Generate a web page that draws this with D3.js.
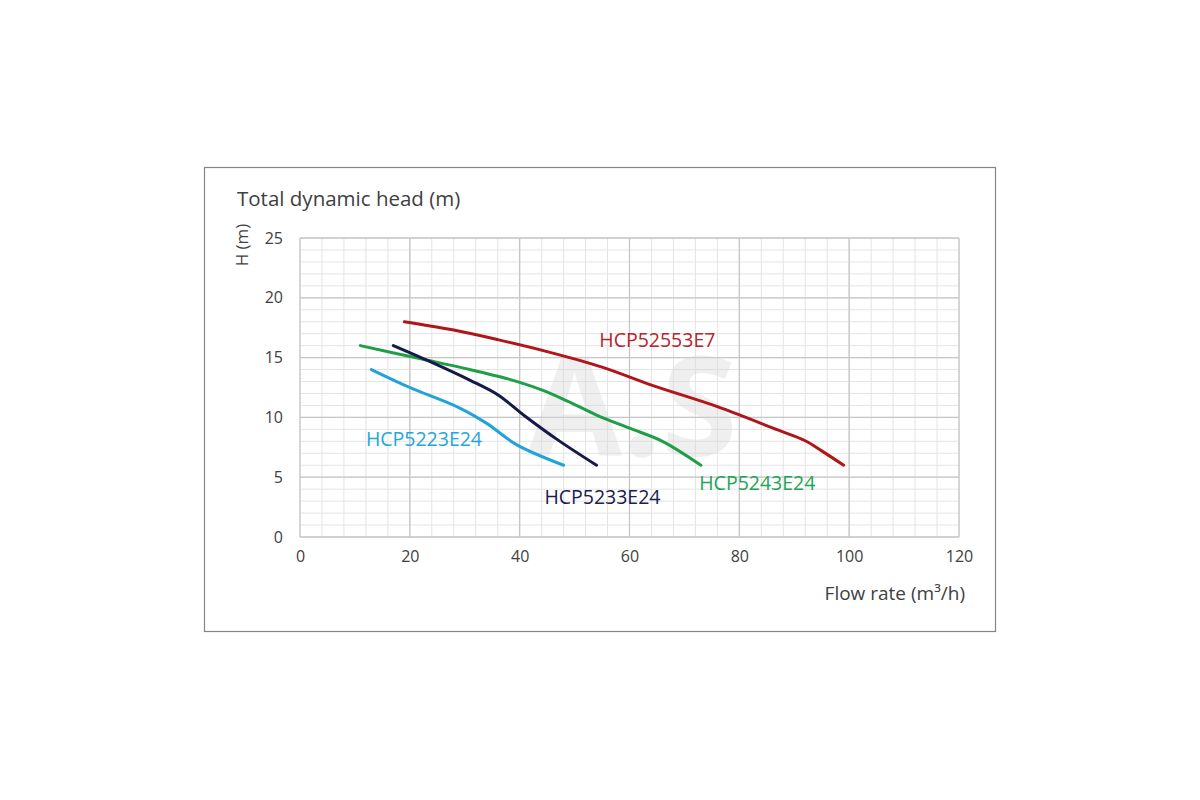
<!DOCTYPE html>
<html>
<head>
<meta charset="utf-8">
<script src="https://cdn.jsdelivr.net/npm/d3@7"></script>
<style>
  body { margin: 0; background: #fff; }
  text { font-family: "Open Sans", "Noto Sans", sans-serif; }
</style>
</head>
<body>
<div id="chart"></div>
<script>
// Courbes H(Q)
const xTicks = [0, 20, 40, 60, 80, 100, 120];
const yTicks = [0, 5, 10, 15, 20, 25];

const hcp52553e7 = [[19, 18], [28, 17.3], [36, 16.5], [45, 15.5], [55, 14.2], [64, 12.7], [76, 10.9], [87, 8.95], [92, 8.05], [95, 7.2], [99, 6]];
const hcp5243e24 = [[11, 16], [22, 14.9], [30, 14.1], [38, 13.2], [44, 12.3], [49, 11.3], [54, 10.2], [60, 9.1], [66, 8], [73, 6]];
const hcp5233e24 = [[17, 16], [24, 14.6], [31, 13.1], [36, 11.9], [41, 10.1], [47, 8.1], [54, 6]];
const hcp5223e24 = [[13, 14], [20, 12.5], [29, 10.8], [34, 9.5], [39.5, 7.7], [48, 6]];

const seriesNames = ["HCP52553E7", "HCP5243E24", "HCP5233E24", "HCP5223E24"];
const seriesData = [hcp52553e7, hcp5243e24, hcp5233e24, hcp5223e24];
const seriesColors = ["#b01519", "#1f9e48", "#151a48", "#1fa3da"];
const labelColors = ["#b8242a", "#23a455", "#1a2050", "#22a6dc"];
// position des étiquettes en unités du graphique
const labelPos = [[54.5, 15.85], [72.7, 3.9], [44.5, 2.8], [12, 7.6]];

const W = 1200, H = 800;
const svg = d3.select("#chart").append("svg")
    .attr("width", W)
    .attr("height", H);

// Cadre
svg.append("rect")
    .attr("x", 204.5).attr("y", 167.5)
    .attr("width", 791).attr("height", 464)
    .attr("fill", "#fff")
    .attr("stroke", "#858585")
    .attr("stroke-width", 1.2);

const x = d3.scaleLinear().domain([0, 120]).range([300, 959]);
const y = d3.scaleLinear().domain([0, 25]).range([537, 238]);

// Grille secondaire
const grid = svg.append("g");
grid.selectAll(".vmin")
    .data(d3.range(0, 121, 4))
    .enter().append("line")
    .attr("x1", d => x(d)).attr("x2", d => x(d))
    .attr("y1", y(0)).attr("y2", y(25))
    .attr("stroke", "#e4e4e4").attr("stroke-width", 1);
grid.selectAll(".hmin")
    .data(d3.range(0, 26, 1))
    .enter().append("line")
    .attr("x1", x(0)).attr("x2", x(120))
    .attr("y1", d => y(d)).attr("y2", d => y(d))
    .attr("stroke", "#e4e4e4").attr("stroke-width", 1);

// Grille principale
grid.selectAll(".vmaj")
    .data(xTicks)
    .enter().append("line")
    .attr("x1", d => x(d)).attr("x2", d => x(d))
    .attr("y1", y(0)).attr("y2", y(25))
    .attr("stroke", "#c6c6c6").attr("stroke-width", 1.3);
grid.selectAll(".hmaj")
    .data(yTicks)
    .enter().append("line")
    .attr("x1", x(0)).attr("x2", x(120))
    .attr("y1", d => y(d)).attr("y2", d => y(d))
    .attr("stroke", "#c6c6c6").attr("stroke-width", 1.3);

// Filigrane
svg.append("text")
    .attr("x", 527).attr("y", 456)
    .attr("font-size", 138)
    .attr("font-weight", "bold")
    .attr("fill", "#d8d8d8")
    .attr("opacity", 0.4)
    .text("A.S");

// Axes
const xAxis = svg.append("g")
    .attr("transform", `translate(0,${y(0)})`)
    .call(d3.axisBottom(x).tickValues(xTicks).tickSize(0).tickPadding(14));
const yAxis = svg.append("g")
    .attr("transform", `translate(${x(0)},0)`)
    .call(d3.axisLeft(y).tickValues(yTicks).tickSize(0).tickPadding(17));
[xAxis, yAxis].forEach(a => {
    a.select(".domain").remove();
    a.selectAll("text")
        .attr("font-size", 16)
        .attr("fill", "#404040")
        .style("font-family", "'Open Sans', sans-serif");
});

// Titres
svg.append("text")
    .attr("x", 237).attr("y", 206)
    .attr("font-size", 20.5)
    .attr("fill", "#404040")
    .text("Total dynamic head (m)");

svg.append("text")
    .attr("transform", "translate(248,245) rotate(-90)")
    .attr("text-anchor", "middle")
    .attr("font-size", 17)
    .attr("fill", "#404040")
    .text("H (m)");

svg.append("text")
    .attr("x", 965).attr("y", 600)
    .attr("text-anchor", "end")
    .attr("font-size", 19)
    .attr("fill", "#404040")
    .text("Flow rate (m³/h)");

// Courbes
const line = d3.line()
    .x(d => x(d[0]))
    .y(d => y(d[1]))
    .curve(d3.curveCatmullRom.alpha(0.5));

svg.selectAll(".curve")
    .data(seriesData)
    .enter().append("path")
    .attr("class", "curve")
    .attr("d", line)
    .attr("fill", "none")
    .attr("stroke", (d, i) => seriesColors[i])
    .attr("stroke-width", 3)
    .attr("stroke-linecap", "round");

// Étiquettes
svg.selectAll(".label")
    .data(seriesNames)
    .enter().append("text")
    .attr("class", "label")
    .attr("x", (d, i) => x(labelPos[i][0]))
    .attr("y", (d, i) => y(labelPos[i][1]))
    .attr("font-size", 19.5)
    .attr("fill", (d, i) => labelColors[i])
    .text(d => d);
</script>
</body>
</html>
